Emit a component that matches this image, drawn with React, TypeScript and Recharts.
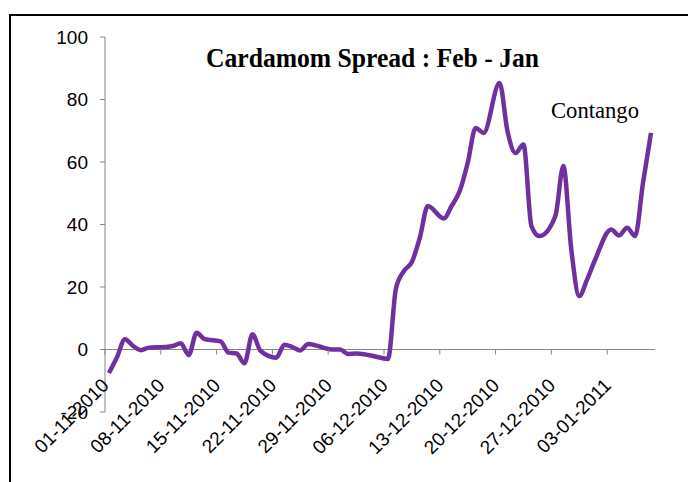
import { LineChart, Line, XAxis, YAxis, ReferenceLine } from "recharts";

// trading days (Mon-Sat) and the Feb - Jan spread
const DATES = [
  "01-11-2010", "02-11-2010", "03-11-2010", "04-11-2010", "05-11-2010", "06-11-2010",
  "08-11-2010", "09-11-2010", "10-11-2010", "11-11-2010", "12-11-2010", "13-11-2010",
  "15-11-2010", "16-11-2010", "17-11-2010", "18-11-2010", "19-11-2010", "20-11-2010",
  "22-11-2010", "23-11-2010", "24-11-2010", "25-11-2010", "26-11-2010",
  "29-11-2010", "30-11-2010", "01-12-2010", "02-12-2010", "03-12-2010", "04-12-2010",
  "06-12-2010", "07-12-2010", "08-12-2010", "09-12-2010", "10-12-2010", "11-12-2010",
  "13-12-2010", "14-12-2010", "15-12-2010", "16-12-2010", "17-12-2010", "18-12-2010",
  "20-12-2010", "21-12-2010", "22-12-2010", "23-12-2010", "24-12-2010", "25-12-2010",
  "27-12-2010", "28-12-2010", "29-12-2010", "30-12-2010", "31-12-2010", "01-01-2011",
  "03-01-2011", "04-01-2011", "05-01-2011", "06-01-2011", "07-01-2011", "08-01-2011",
];

const SPREAD = [
  -7.5, -2.5, 3.3, 1.2, -0.2, 0.6,
  0.8, 1.1, 2, -1.8, 5.4, 3.3,
  2.6, -1, -1.3, -4.4, 4.9, -0.4,
  -2.6, 1.5, 0.8, -0.3, 1.8,
  0, 0, -1.4, -1.3, -1.5, -2,
  -3, 19.5, 25.1, 28, 35.8, 45.9,
  41.9, 46, 50.7, 59.7, 70.9, 69.3,
  85.3, 69.8, 62.9, 65.6, 39.5, 36.3,
  42.7, 58.7, 32, 17.1, 22.5, 28.8,
  38.4, 36.5, 39, 36.3, 53.4, 69.3,
];

const TICK_LABELS = [
  "01-11-2010", "08-11-2010", "15-11-2010", "22-11-2010", "29-11-2010",
  "06-12-2010", "13-12-2010", "20-12-2010", "27-12-2010", "03-01-2011",
];

const Y_TICKS = [-20, 0, 20, 40, 60, 80, 100];

const W = 688;
const H = 482;
const MARGIN = { top: 37, right: 33, bottom: 40, left: 60 };
const Y_AXIS_W = 45;
const X_AXIS_H = 30;
const PLOT_H = H - MARGIN.top - MARGIN.bottom - X_AXIS_H;
const ZERO_Y = MARGIN.top + (PLOT_H * 100) / 120;

const AXIS_GRAY = "#868686";
const LINE_COLOR = "#7030A0";
const TICK_FONT = '"Liberation Sans Narrow", "Arial Narrow", sans-serif';

const dayIndex = (s: string) => {
  const [d, m, y] = s.split("-").map(Number);
  return Math.round((Date.UTC(y, m - 1, d) - Date.UTC(2010, 10, 1)) / 86400000);
};

// excel date axis: each point sits in the middle of its day
const data = DATES.map((date, i) => ({
  day: dayIndex(date) + 0.5,
  date,
  spread: SPREAD[i],
}));

const xTicks = TICK_LABELS.map(dayIndex);
const axisEnd = dayIndex(DATES[DATES.length - 1]) + 1;

function DateTick(props: any) {
  const { x, payload } = props;
  const label = TICK_LABELS[xTicks.indexOf(payload.value)] ?? "";
  return (
    <g>
      <line x1={x} y1={ZERO_Y} x2={x} y2={ZERO_Y + 5} stroke={AXIS_GRAY} strokeWidth={1} />
      <text
        x={x + 5}
        y={ZERO_Y + 37}
        transform={`rotate(-45, ${x + 5}, ${ZERO_Y + 37})`}
        textAnchor="end"
        fill="#000"
        fontFamily={TICK_FONT}
        fontSize={19}
      >
        {label}
      </text>
    </g>
  );
}

export default function App() {
  return (
    <div
      style={{
        position: "absolute",
        left: 0,
        top: 0,
        width: W,
        height: H,
        overflow: "hidden",
        background: "#fff",
      }}
    >
      <div
        style={{
          position: "absolute",
          left: 9,
          top: 14,
          width: W,
          height: H,
          borderLeft: "2px solid #000",
          borderTop: "2px solid #000",
        }}
      />
      <div style={{ position: "absolute", left: 0, top: 0 }}>
        <LineChart width={W} height={H} data={data} margin={MARGIN}>
          <XAxis
            dataKey="day"
            type="number"
            domain={[0, axisEnd]}
            ticks={xTicks}
            interval={0}
            height={X_AXIS_H}
            axisLine={false}
            tickLine={false}
            tick={(p: any) => <DateTick {...p} />}
          />
          <YAxis
            type="number"
            domain={[-20, 100]}
            ticks={Y_TICKS}
            interval={0}
            width={Y_AXIS_W}
            axisLine={{ stroke: AXIS_GRAY, strokeWidth: 1 }}
            tickLine={{ stroke: AXIS_GRAY, strokeWidth: 1 }}
            tickSize={5}
            tickMargin={12}
            tick={{ fill: "#000", fontFamily: TICK_FONT, fontSize: 19 }}
          />
          <ReferenceLine y={0} stroke={AXIS_GRAY} strokeWidth={1} />
          <Line
            type="monotone"
            dataKey="spread"
            stroke={LINE_COLOR}
            strokeWidth={4.5}
            dot={false}
            isAnimationActive={false}
          />
        </LineChart>
      </div>
      <svg
        width={W}
        height={H}
        style={{ position: "absolute", left: 0, top: 0, pointerEvents: "none" }}
      >
        <text
          x={206}
          y={67}
          fontFamily='"Liberation Serif", "Times New Roman", serif'
          fontWeight="bold"
          fontSize={28}
          textLength={333}
          lengthAdjust="spacingAndGlyphs"
          fill="#000"
        >
          Cardamom Spread : Feb - Jan
        </text>
        <text
          x={551}
          y={117.5}
          fontFamily='"Liberation Serif", "Times New Roman", serif'
          fontSize={23}
          textLength={88}
          lengthAdjust="spacingAndGlyphs"
          fill="#000"
        >
          Contango
        </text>
      </svg>
    </div>
  );
}
